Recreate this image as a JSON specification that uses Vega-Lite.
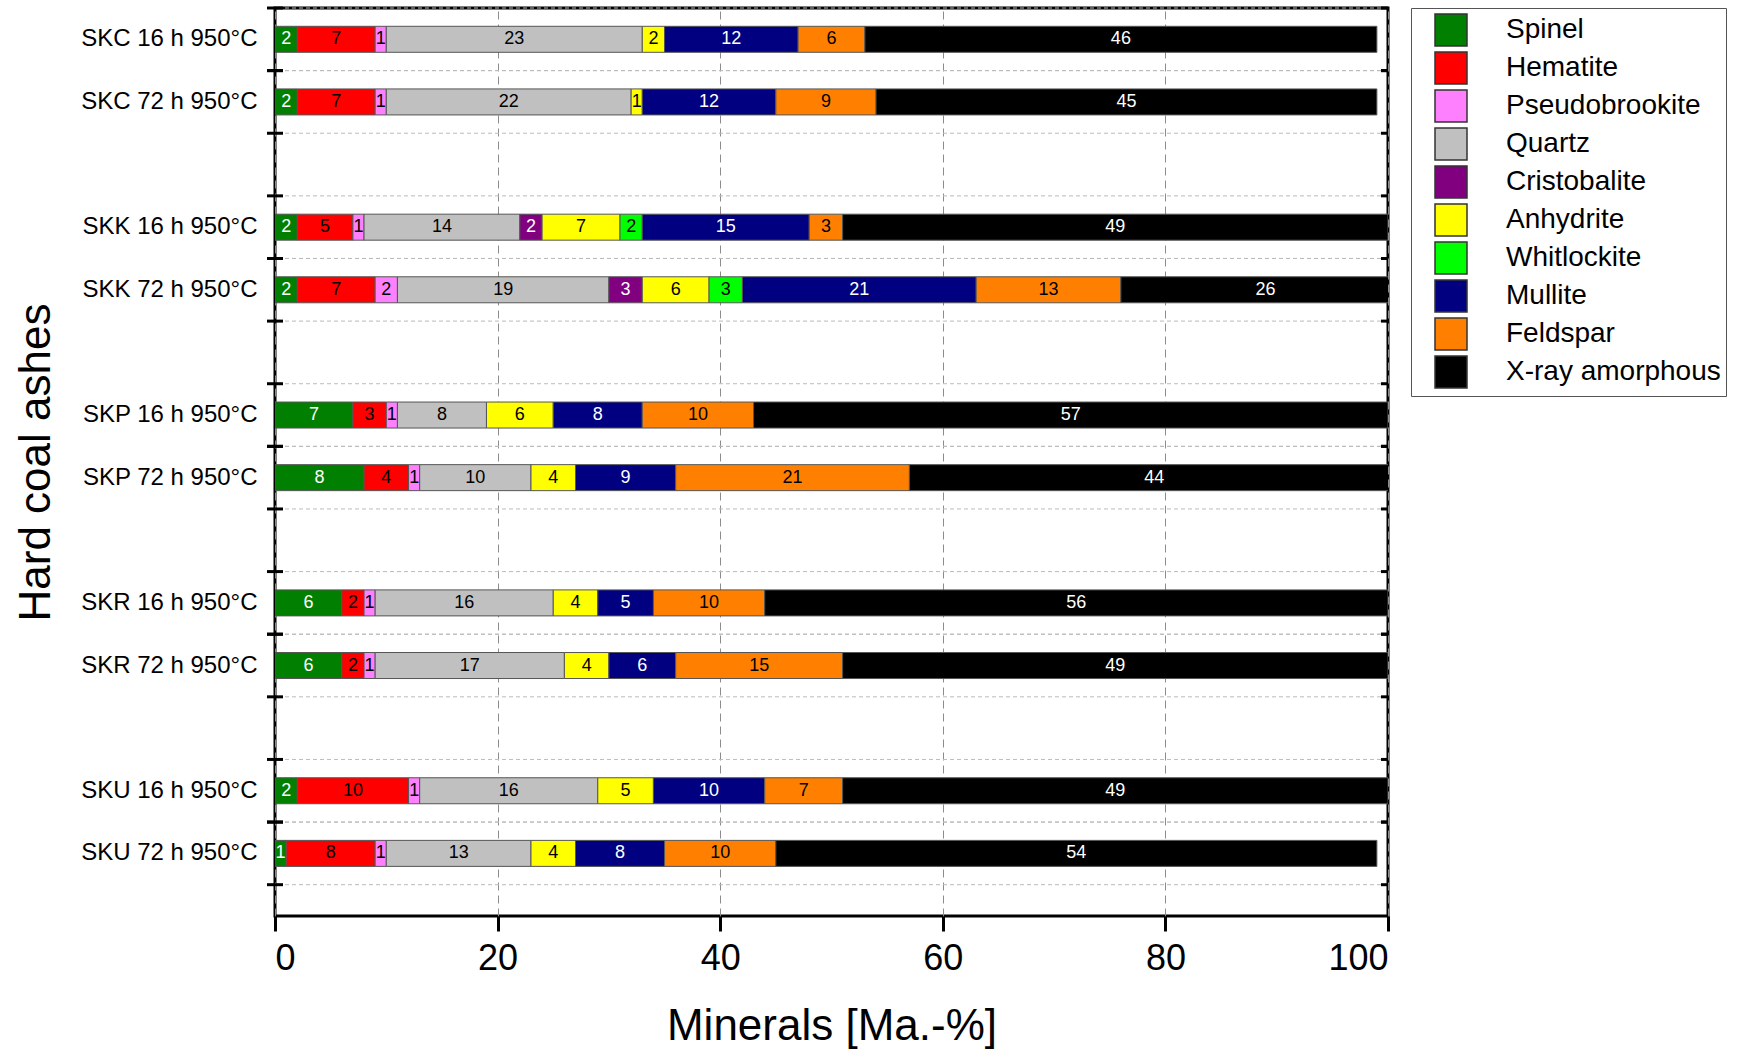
{
  "$schema": "https://vega.github.io/schema/vega-lite/v6.json",
  "width": 1113,
  "height": 908,
  "padding": {"left": 14, "top": 6, "right": 5, "bottom": 5},
  "background": "white",
  "config": {
    "view": {"stroke": "black", "strokeWidth": 3},
    "font": "Liberation Sans",
    "axis": {"labelColor": "black", "titleColor": "black", "titleFontWeight": "normal", "labelFont": "Liberation Sans", "titleFont": "Liberation Sans"}
  },
  "data": {
    "values": [
      {"sample": "SKC 16 h 950°C", "mineral": "Spinel", "value": 2},
      {"sample": "SKC 16 h 950°C", "mineral": "Hematite", "value": 7},
      {"sample": "SKC 16 h 950°C", "mineral": "Pseudobrookite", "value": 1},
      {"sample": "SKC 16 h 950°C", "mineral": "Quartz", "value": 23},
      {"sample": "SKC 16 h 950°C", "mineral": "Anhydrite", "value": 2},
      {"sample": "SKC 16 h 950°C", "mineral": "Mullite", "value": 12},
      {"sample": "SKC 16 h 950°C", "mineral": "Feldspar", "value": 6},
      {"sample": "SKC 16 h 950°C", "mineral": "X-ray amorphous", "value": 46},
      {"sample": "SKC 72 h 950°C", "mineral": "Spinel", "value": 2},
      {"sample": "SKC 72 h 950°C", "mineral": "Hematite", "value": 7},
      {"sample": "SKC 72 h 950°C", "mineral": "Pseudobrookite", "value": 1},
      {"sample": "SKC 72 h 950°C", "mineral": "Quartz", "value": 22},
      {"sample": "SKC 72 h 950°C", "mineral": "Anhydrite", "value": 1},
      {"sample": "SKC 72 h 950°C", "mineral": "Mullite", "value": 12},
      {"sample": "SKC 72 h 950°C", "mineral": "Feldspar", "value": 9},
      {"sample": "SKC 72 h 950°C", "mineral": "X-ray amorphous", "value": 45},
      {"sample": "SKK 16 h 950°C", "mineral": "Spinel", "value": 2},
      {"sample": "SKK 16 h 950°C", "mineral": "Hematite", "value": 5},
      {"sample": "SKK 16 h 950°C", "mineral": "Pseudobrookite", "value": 1},
      {"sample": "SKK 16 h 950°C", "mineral": "Quartz", "value": 14},
      {"sample": "SKK 16 h 950°C", "mineral": "Cristobalite", "value": 2},
      {"sample": "SKK 16 h 950°C", "mineral": "Anhydrite", "value": 7},
      {"sample": "SKK 16 h 950°C", "mineral": "Whitlockite", "value": 2},
      {"sample": "SKK 16 h 950°C", "mineral": "Mullite", "value": 15},
      {"sample": "SKK 16 h 950°C", "mineral": "Feldspar", "value": 3},
      {"sample": "SKK 16 h 950°C", "mineral": "X-ray amorphous", "value": 49},
      {"sample": "SKK 72 h 950°C", "mineral": "Spinel", "value": 2},
      {"sample": "SKK 72 h 950°C", "mineral": "Hematite", "value": 7},
      {"sample": "SKK 72 h 950°C", "mineral": "Pseudobrookite", "value": 2},
      {"sample": "SKK 72 h 950°C", "mineral": "Quartz", "value": 19},
      {"sample": "SKK 72 h 950°C", "mineral": "Cristobalite", "value": 3},
      {"sample": "SKK 72 h 950°C", "mineral": "Anhydrite", "value": 6},
      {"sample": "SKK 72 h 950°C", "mineral": "Whitlockite", "value": 3},
      {"sample": "SKK 72 h 950°C", "mineral": "Mullite", "value": 21},
      {"sample": "SKK 72 h 950°C", "mineral": "Feldspar", "value": 13},
      {"sample": "SKK 72 h 950°C", "mineral": "X-ray amorphous", "value": 26},
      {"sample": "SKP 16 h 950°C", "mineral": "Spinel", "value": 7},
      {"sample": "SKP 16 h 950°C", "mineral": "Hematite", "value": 3},
      {"sample": "SKP 16 h 950°C", "mineral": "Pseudobrookite", "value": 1},
      {"sample": "SKP 16 h 950°C", "mineral": "Quartz", "value": 8},
      {"sample": "SKP 16 h 950°C", "mineral": "Anhydrite", "value": 6},
      {"sample": "SKP 16 h 950°C", "mineral": "Mullite", "value": 8},
      {"sample": "SKP 16 h 950°C", "mineral": "Feldspar", "value": 10},
      {"sample": "SKP 16 h 950°C", "mineral": "X-ray amorphous", "value": 57},
      {"sample": "SKP 72 h 950°C", "mineral": "Spinel", "value": 8},
      {"sample": "SKP 72 h 950°C", "mineral": "Hematite", "value": 4},
      {"sample": "SKP 72 h 950°C", "mineral": "Pseudobrookite", "value": 1},
      {"sample": "SKP 72 h 950°C", "mineral": "Quartz", "value": 10},
      {"sample": "SKP 72 h 950°C", "mineral": "Anhydrite", "value": 4},
      {"sample": "SKP 72 h 950°C", "mineral": "Mullite", "value": 9},
      {"sample": "SKP 72 h 950°C", "mineral": "Feldspar", "value": 21},
      {"sample": "SKP 72 h 950°C", "mineral": "X-ray amorphous", "value": 44},
      {"sample": "SKR 16 h 950°C", "mineral": "Spinel", "value": 6},
      {"sample": "SKR 16 h 950°C", "mineral": "Hematite", "value": 2},
      {"sample": "SKR 16 h 950°C", "mineral": "Pseudobrookite", "value": 1},
      {"sample": "SKR 16 h 950°C", "mineral": "Quartz", "value": 16},
      {"sample": "SKR 16 h 950°C", "mineral": "Anhydrite", "value": 4},
      {"sample": "SKR 16 h 950°C", "mineral": "Mullite", "value": 5},
      {"sample": "SKR 16 h 950°C", "mineral": "Feldspar", "value": 10},
      {"sample": "SKR 16 h 950°C", "mineral": "X-ray amorphous", "value": 56},
      {"sample": "SKR 72 h 950°C", "mineral": "Spinel", "value": 6},
      {"sample": "SKR 72 h 950°C", "mineral": "Hematite", "value": 2},
      {"sample": "SKR 72 h 950°C", "mineral": "Pseudobrookite", "value": 1},
      {"sample": "SKR 72 h 950°C", "mineral": "Quartz", "value": 17},
      {"sample": "SKR 72 h 950°C", "mineral": "Anhydrite", "value": 4},
      {"sample": "SKR 72 h 950°C", "mineral": "Mullite", "value": 6},
      {"sample": "SKR 72 h 950°C", "mineral": "Feldspar", "value": 15},
      {"sample": "SKR 72 h 950°C", "mineral": "X-ray amorphous", "value": 49},
      {"sample": "SKU 16 h 950°C", "mineral": "Spinel", "value": 2},
      {"sample": "SKU 16 h 950°C", "mineral": "Hematite", "value": 10},
      {"sample": "SKU 16 h 950°C", "mineral": "Pseudobrookite", "value": 1},
      {"sample": "SKU 16 h 950°C", "mineral": "Quartz", "value": 16},
      {"sample": "SKU 16 h 950°C", "mineral": "Anhydrite", "value": 5},
      {"sample": "SKU 16 h 950°C", "mineral": "Mullite", "value": 10},
      {"sample": "SKU 16 h 950°C", "mineral": "Feldspar", "value": 7},
      {"sample": "SKU 16 h 950°C", "mineral": "X-ray amorphous", "value": 49},
      {"sample": "SKU 72 h 950°C", "mineral": "Spinel", "value": 1},
      {"sample": "SKU 72 h 950°C", "mineral": "Hematite", "value": 8},
      {"sample": "SKU 72 h 950°C", "mineral": "Pseudobrookite", "value": 1},
      {"sample": "SKU 72 h 950°C", "mineral": "Quartz", "value": 13},
      {"sample": "SKU 72 h 950°C", "mineral": "Anhydrite", "value": 4},
      {"sample": "SKU 72 h 950°C", "mineral": "Mullite", "value": 8},
      {"sample": "SKU 72 h 950°C", "mineral": "Feldspar", "value": 10},
      {"sample": "SKU 72 h 950°C", "mineral": "X-ray amorphous", "value": 54}
    ]
  },
  "transform": [
    {"window": [{"op": "row_number", "as": "rn"}]},
    {"stack": "value", "groupby": ["sample"], "sort": [{"field": "rn", "order": "ascending"}], "as": ["v0", "v1"], "offset": "zero"},
    {"calculate": "(datum.v0 + datum.v1) / 2", "as": "mid"}
  ],
  "encoding": {
    "y": {
      "field": "sample", "type": "nominal",
      "scale": {
        "domain": ["SKC 16 h 950°C", "SKC 72 h 950°C", " ", "SKK 16 h 950°C", "SKK 72 h 950°C", "  ", "SKP 16 h 950°C", "SKP 72 h 950°C", "   ", "SKR 16 h 950°C", "SKR 72 h 950°C", "    ", "SKU 16 h 950°C", "SKU 72 h 950°C"],
        "paddingInner": 0, "paddingOuter": 0.25, "align": 0
      },
      "axis": {
        "orient": "left",
        "title": "Hard coal ashes",
        "titleFontSize": 44,
        "titlePadding": 22,
        "labelFontSize": 24,
        "labelPadding": 18,
        "ticks": false,
        "domain": false,
        "grid": false
      }
    }
  },
  "layer": [
    {
      "transform": [{"filter": "datum.mineral == 'X-ray amorphous'"}],
      "mark": {"type": "rule", "color": "#bbbbbb", "strokeWidth": 1, "strokeDash": [4, 3]},
      "encoding": {"y": {"field": "sample", "type": "nominal", "bandPosition": 0}}
    },
    {
      "transform": [{"filter": "datum.mineral == 'X-ray amorphous'"}],
      "mark": {"type": "rule", "color": "#bbbbbb", "strokeWidth": 1, "strokeDash": [4, 3]},
      "encoding": {"y": {"field": "sample", "type": "nominal", "bandPosition": 1}}
    },
    {
      "mark": {"type": "bar", "size": 26, "stroke": "#555555", "strokeWidth": 1, "clip": true},
      "encoding": {
        "x": {
          "field": "v0", "type": "quantitative",
          "scale": {"domain": [0, 100], "nice": false},
          "axis": {
            "orient": "bottom",
            "title": "Minerals [Ma.-%]",
            "titleFontSize": 44,
            "titlePadding": 28,
            "values": [0, 20, 40, 60, 80, 100],
            "labelFontSize": 36,
            "labelPadding": 10,
            "tickSize": 15,
            "tickWidth": 3,
            "tickColor": "black",
            "domain": false,
            "grid": true,
            "gridColor": "#8c8c8c",
            "gridDash": [8, 5],
            "gridWidth": 1
          }
        },
        "x2": {"field": "v1"},
        "color": {
          "field": "mineral", "type": "nominal",
          "scale": {
            "domain": ["Spinel", "Hematite", "Pseudobrookite", "Quartz", "Cristobalite", "Anhydrite", "Whitlockite", "Mullite", "Feldspar", "X-ray amorphous"],
            "range": ["#007f00", "#ff0000", "#ff80ff", "#c0c0c0", "#800080", "#ffff00", "#00ff00", "#000080", "#ff8000", "#000000"]
          },
          "legend": {
            "orient": "right",
            "offset": 23,
            "title": null,
            "symbolType": "square",
            "symbolSize": 1024,
            "symbolStrokeColor": "#333333",
            "symbolStrokeWidth": 1.5,
            "symbolOffset": 18,
            "labelFontSize": 28,
            "labelFont": "Liberation Sans",
            "labelColor": "black",
            "labelOffset": 38,
            "labelLimit": 400,
            "strokeColor": "#555555",
            "fillColor": "white",
            "padding": 5,
            "rowPadding": 0
          }
        }
      }
    },
    {
      "transform": [{"filter": "datum.mineral == 'X-ray amorphous'"}],
      "mark": {"type": "rule", "color": "black", "strokeWidth": 3, "xOffset": -8, "x2Offset": 8},
      "encoding": {"x": {"datum": 0}, "x2": {"datum": 0}, "y": {"field": "sample", "type": "nominal", "bandPosition": 0}}
    },
    {
      "transform": [{"filter": "datum.mineral == 'X-ray amorphous'"}],
      "mark": {"type": "rule", "color": "black", "strokeWidth": 3, "xOffset": -8, "x2Offset": 8},
      "encoding": {"x": {"datum": 0}, "x2": {"datum": 0}, "y": {"field": "sample", "type": "nominal", "bandPosition": 1}}
    },
    {
      "transform": [{"filter": "datum.mineral == 'X-ray amorphous'"}],
      "mark": {"type": "rule", "color": "black", "strokeWidth": 3, "xOffset": -7},
      "encoding": {"x": {"datum": 100}, "x2": {"datum": 100}, "y": {"field": "sample", "type": "nominal", "bandPosition": 0}}
    },
    {
      "transform": [{"filter": "datum.mineral == 'X-ray amorphous'"}],
      "mark": {"type": "rule", "color": "black", "strokeWidth": 3, "xOffset": -7},
      "encoding": {"x": {"datum": 100}, "x2": {"datum": 100}, "y": {"field": "sample", "type": "nominal", "bandPosition": 1}}
    },
    {
      "transform": [{"filter": {"field": "mineral", "oneOf": ["Spinel", "Cristobalite", "Mullite", "X-ray amorphous"]}}],
      "mark": {"type": "text", "font": "Liberation Sans", "fontSize": 18, "baseline": "middle", "align": "center", "color": "white"},
      "encoding": {
        "x": {"field": "mid", "type": "quantitative"},
        "text": {"field": "value", "type": "quantitative"}
      }
    },
    {
      "transform": [{"filter": {"not": {"field": "mineral", "oneOf": ["Spinel", "Cristobalite", "Mullite", "X-ray amorphous"]}}}],
      "mark": {"type": "text", "font": "Liberation Sans", "fontSize": 18, "baseline": "middle", "align": "center", "color": "black"},
      "encoding": {
        "x": {"field": "mid", "type": "quantitative"},
        "text": {"field": "value", "type": "quantitative"}
      }
    }
  ]
}
